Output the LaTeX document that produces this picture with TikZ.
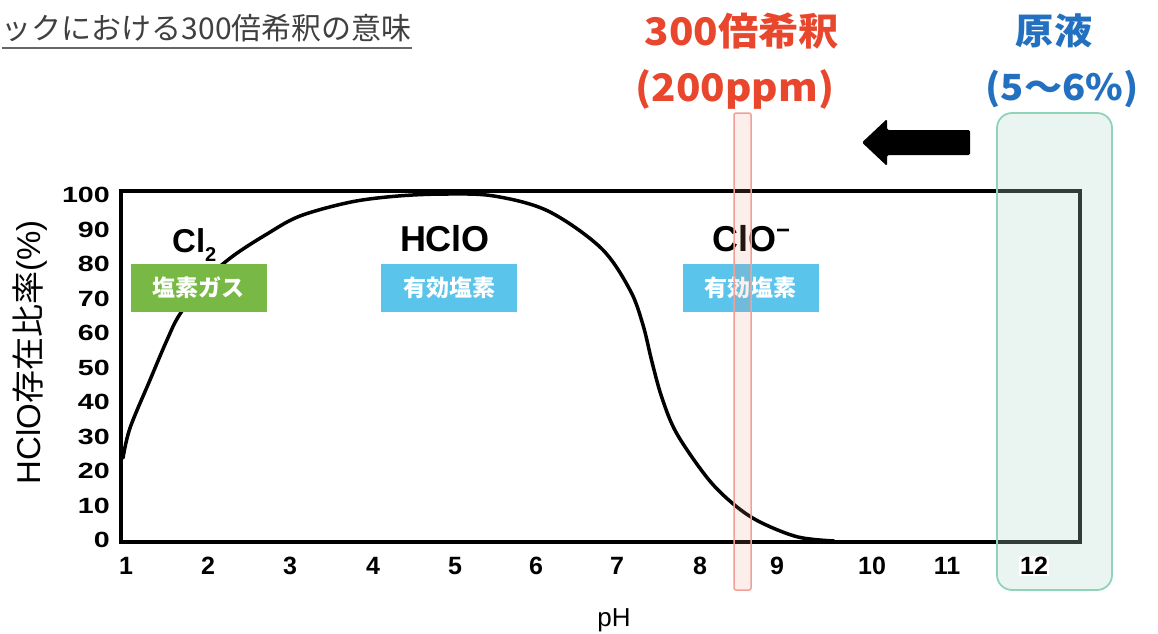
\documentclass[tikz,border=0pt]{standalone}
\usepackage{fontspec}
\setmainfont{Liberation Sans}
\newfontfamily\jp{Noto Sans CJK JP}
\definecolor{redtxt}{HTML}{E8472D}
\definecolor{bluetxt}{HTML}{2470C0}
\definecolor{gbox}{HTML}{78B845}
\definecolor{bbox}{HTML}{5BC4EB}
\definecolor{redln}{HTML}{F2A097}
\definecolor{redfill}{RGB}{235,141,121}
\definecolor{tealln}{HTML}{90D4B8}
\definecolor{tealfill}{RGB}{182,221,207}
\definecolor{titlec}{HTML}{404040}
\begin{document}
\begin{tikzpicture}[x=1pt,y=-1pt,
  ylab/.style={anchor=east, font=\bfseries\fontsize{22}{22}\selectfont, xscale=1.3, inner sep=0pt},
  xlab/.style={font=\bfseries\fontsize{25}{25}\selectfont, inner sep=0pt},
  species/.style={font=\bfseries\fontsize{36}{36}\selectfont, inner sep=0pt},
  tagbox/.style={text=white, font=\jp\bfseries\fontsize{23}{23}\selectfont, minimum width=136pt, minimum height=48pt, inner sep=0pt},
  bigred/.style={text=redtxt, font=\jp\bfseries\fontsize{38}{38}\selectfont, xscale=1.06, inner sep=0pt},
  bigblue/.style={text=bluetxt, font=\jp\bfseries\fontsize{36}{36}\selectfont, xscale=1.06, inner sep=0pt}
]
\useasboundingbox (0,0) rectangle (1158,633);
\fill[white] (0,0) rectangle (1158,633);

% title
\node[anchor=east, inner sep=0pt, text=titlec, font=\jp\fontsize{30}{30}\selectfont] (title) at (412,28) {ックにおける300倍希釈の意味};
\draw[titlec!80, line width=2] (title.south west |- 0,48) -- (412,48);

% frame
\draw[line width=4.5, line join=miter] (121,191) rectangle (1080,542);

% curve
\draw[line width=3.5, line join=round, line cap=round] plot[smooth, tension=0.55] coordinates {
 (123,458) (130,428) (150,380) (167,340) (180,314) (207,279) (233,256) (267,234)
 (300,216) (351,202) (398,196) (446,194) (494,196) (548,211) (601,248) (630,290) (643,325)
 (652,362) (662,398) (677,434) (709,480) (737,507) (762,523) (798,537) (834,541)};

% y tick labels
\foreach \v in {0,10,...,100} {
  \node[ylab] (y\v) at (110,{540-3.45*\v}) {\v};
}
% x tick labels
\foreach \lab/\xx in {1/126,2/208,3/290,4/373,5/455,6/536,7/617,8/700,9/777,10/872,11/947} {
  \node[xlab] (x\lab) at (\xx,566) {\lab};
}

% axis titles
\node[rotate=90, inner sep=0pt, font=\fontsize{33}{33}\selectfont] (ytitle) at (30,352) {HClO{\jp 存在比率}(\%)};
\node[anchor=base, inner sep=0pt, font=\fontsize{26}{26}\selectfont] (xtitle) at (614,626) {pH};

% species labels
\node[anchor=base west, inner sep=0pt, font=\bfseries\fontsize{33}{33}\selectfont] (cl2) at (172,252) {Cl\raisebox{-9pt}{\fontsize{20}{20}\selectfont 2}};
\node[species, anchor=base] (hclo) at (445,251) {HClO};
\node[species, anchor=base west] (clo) at (712,251) {ClO\raisebox{13pt}{\fontsize{24}{24}\selectfont −}};

\node[tagbox, fill=gbox] (gas) at (198.5,288) {塩素ガス};
\node[tagbox, fill=bbox] (eff1) at (449,288) {有効塩素};
\node[tagbox, fill=bbox] (eff2) at (750.5,288) {有効塩素};

% highlight bands
\node[draw=redln, fill=redfill, fill opacity=0.15, line width=1.5, rounded corners=2pt, minimum width=17pt, minimum height=477pt, inner sep=0pt] (dil) at (742.5,351.5) {};
\node[draw=tealln, fill=tealfill, fill opacity=0.28, line width=1.8, rounded corners=15pt, minimum width=115pt, minimum height=477pt, inner sep=0pt] (stock) at (1054.5,351.5) {};
\node[xlab, fill=white, inner sep=1pt] (x12) at (1034,566) {12};

% top labels
\node[bigred] (dilA) at (742,31) {300倍希釈};
\node[bigred] (dilB) at (735,89) {(200ppm)};
\node[bigblue] (stA) at (1054,31) {原液};
\node[bigblue] (stB) at (1062,89) {(5〜6\%)};

% big arrow
\fill[rounded corners=1.5pt] (970,130) -- (887,130) -- (887,119) -- (862,142.5) -- (887,166) -- (887,155) -- (970,155) -- cycle;
\end{tikzpicture}
\end{document}
